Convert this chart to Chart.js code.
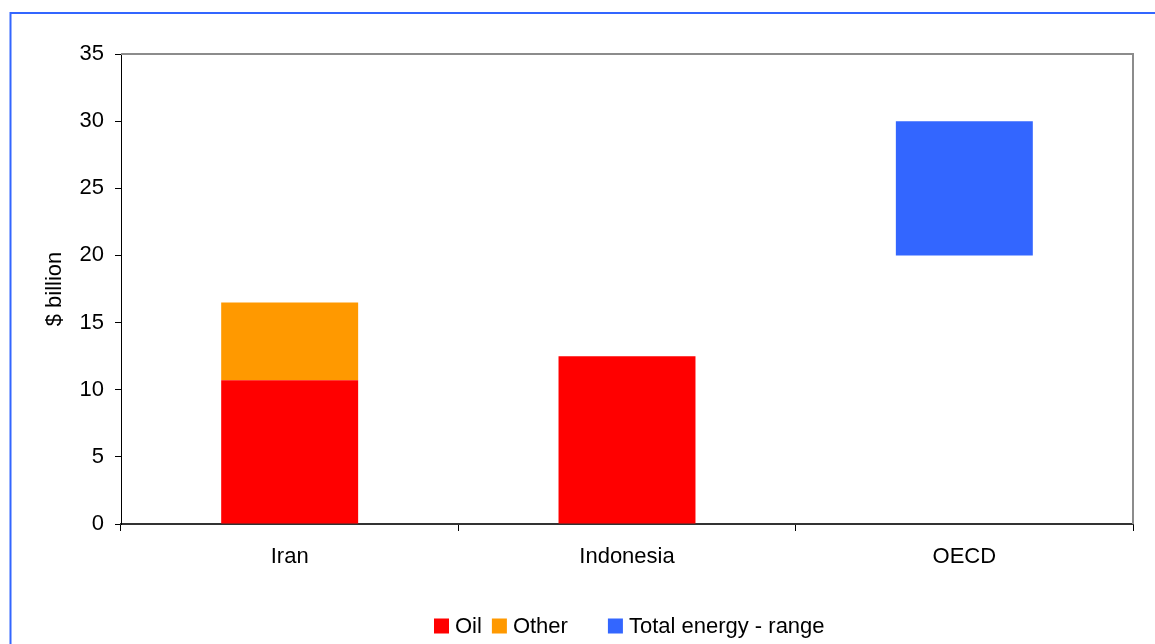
<!DOCTYPE html>
<html>
<head>
<meta charset="utf-8">
<script src="https://cdn.jsdelivr.net/npm/chart.js@4"></script>
<style>
  html, body { margin: 0; padding: 0; background: #fff; }
  #wrap { position: relative; width: 1155px; height: 644px; }
</style>
</head>
<body>
<div id="wrap"><canvas id="c" width="1155" height="644"></canvas></div>
<script>
// Energy subsidies by country, $ billion
const categories = ['Iran', 'Indonesia', 'OECD'];
const oil = [10.7, 12.5, null];
const other = [5.8, null, null];
const energyRange = [null, null, [20, 30]];
const seriesNames = ['Oil', 'Other', 'Total energy - range'];
const seriesColors = ['#FF0000', '#FF9900', '#3366FF'];
const yMin = 0, yMax = 35, yStep = 5;

const FONT = '"Liberation Sans", Arial, sans-serif';
const FSIZE = 22;

// Outer frame, plot border and a hand-drawn legend
const decor = {
  id: 'decor',
  beforeDraw(chart) {
    const ctx = chart.ctx;
    ctx.save();
    ctx.fillStyle = '#fff';
    ctx.fillRect(0, 0, chart.width, chart.height);
    ctx.strokeStyle = '#3366FF';
    ctx.lineWidth = 2;
    ctx.beginPath();
    ctx.moveTo(10.5, chart.height);
    ctx.lineTo(10.5, 13);
    ctx.lineTo(chart.width, 13);
    ctx.stroke();
    ctx.restore();
  },
  afterDraw(chart) {
    const ctx = chart.ctx;
    const a = chart.chartArea;
    ctx.save();
    // top and right plot border
    ctx.strokeStyle = '#8c8c8c';
    ctx.lineWidth = 2;
    ctx.beginPath();
    ctx.moveTo(a.left, a.top);
    ctx.lineTo(a.right, a.top);
    ctx.lineTo(a.right, a.bottom);
    ctx.stroke();

    // legend
    ctx.font = FSIZE + 'px ' + FONT;
    ctx.textBaseline = 'middle';
    ctx.textAlign = 'left';
    const cy = 626;
    let x = 434;
    const gaps = [10, 40, 0];
    chart.data.datasets.forEach((ds, i) => {
      ctx.fillStyle = ds.backgroundColor;
      ctx.fillRect(x, cy - 7.5, 15, 15);
      x += 15 + 6;
      ctx.fillStyle = '#000';
      ctx.fillText(ds.label, x, cy + 1);
      x += ctx.measureText(ds.label).width + gaps[i];
    });
    ctx.restore();
  }
};

new Chart(document.getElementById('c'), {
  type: 'bar',
  data: {
    labels: categories,
    datasets: [
      { label: seriesNames[0], data: oil, backgroundColor: seriesColors[0] },
      { label: seriesNames[1], data: other, backgroundColor: seriesColors[1] },
      { label: seriesNames[2], data: energyRange, backgroundColor: seriesColors[2] }
    ]
  },
  options: {
    responsive: false,
    animation: false,
    devicePixelRatio: 1,
    categoryPercentage: 1,
    barPercentage: 0.406,
    layout: { padding: { top: 54, right: 22, left: 0, bottom: 0 } },
    plugins: {
      legend: { display: false },
      tooltip: { enabled: false }
    },
    scales: {
      x: {
        stacked: true,
        afterFit(s) { s.height = 120; },
        border: { display: true, color: '#333', width: 2 },
        grid: {
          offset: true,
          drawOnChartArea: false,
          drawTicks: true,
          tickLength: 7,
          color: '#000'
        },
        ticks: {
          color: '#000',
          font: { family: FONT, size: FSIZE },
          padding: 13
        }
      },
      y: {
        stacked: true,
        min: yMin,
        max: yMax,
        afterFit(s) { s.width = 121; },
        border: { display: true, color: '#000', width: 1 },
        grid: {
          drawOnChartArea: false,
          drawTicks: true,
          tickLength: 6,
          color: '#000'
        },
        ticks: {
          stepSize: yStep,
          color: '#000',
          font: { family: FONT, size: FSIZE },
          padding: 11
        },
        title: {
          display: true,
          text: '$ billion',
          color: '#000',
          font: { family: FONT, size: FSIZE },
          padding: { top: 42, bottom: 0 }
        }
      }
    }
  },
  plugins: [decor]
});
</script>
</body>
</html>
